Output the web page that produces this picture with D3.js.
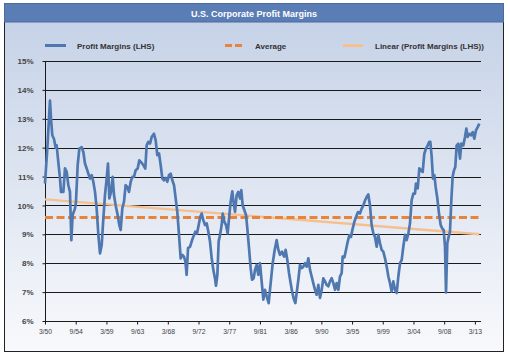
<!DOCTYPE html>
<html><head><meta charset="utf-8">
<script src="https://cdn.jsdelivr.net/npm/d3@7"></script>
<style>
html,body{margin:0;padding:0;background:#fff;}
svg{display:block;}
text{font-family:"Liberation Sans",Arial,sans-serif;}
</style></head>
<body><svg id="c" width="510" height="356"></svg>
<script>
const title = "U.S. Corporate Profit Margins";
const seriesNames = ["Profit Margins (LHS)", "Average", "Linear (Profit Margins (LHS))"];
const yTicks = [6,7,8,9,10,11,12,13,14,15];
const xTickYears = [1950,1954.5,1959,1963.5,1968,1972.5,1977,1981.5,1986,1990.5,1995,1999.5,2004,2008.5,2013];
const xTickLabels = ["3/50","9/54","3/59","9/63","3/68","9/72","3/77","9/81","3/86","9/90","3/95","9/99","3/04","9/08","3/13"];
const years = [
1950.00,1950.34,1950.73,1950.88,1951.07,1951.32,1951.56,1951.71,1951.95,1952.20,1952.34,1952.69,1952.93,1953.18,1953.42,1953.66,1953.86,
1954.05,1954.40,1954.54,1954.79,1955.03,1955.37,1955.62,1955.86,1956.11,1956.35,1956.59,1956.84,1957.08,1957.33,1957.57,1957.82,
1958.06,1958.31,1958.55,1958.79,1959.04,1959.23,1959.43,1959.67,1959.92,1960.11,1960.36,1960.65,1960.89,1961.09,1961.33,1961.58,
1961.82,1962.07,1962.31,1962.56,1962.80,1963.04,1963.29,1963.58,1963.82,1964.07,1964.41,1964.70,1964.90,1965.14,1965.39,1965.63,
1965.97,1966.22,1966.46,1966.71,1966.95,1967.20,1967.44,1967.68,1967.93,1968.17,1968.42,1968.66,1968.91,1969.15,1969.39,1969.64,
1969.88,1970.13,1970.37,1970.57,1970.76,1970.96,1971.25,1971.49,1971.74,1972.03,1972.28,1972.52,1972.76,1972.96,1973.20,1973.45,
1973.69,1973.94,1974.18,1974.43,1974.67,1974.91,1975.06,1975.26,1975.45,1975.65,1975.89,1976.04,1976.28,1976.53,1976.77,1976.97,
1977.21,1977.45,1977.65,1977.85,1978.09,1978.33,1978.58,1978.77,1978.97,1979.21,1979.46,1979.65,1979.90,1980.14,1980.34,1980.58,
1980.78,1981.02,1981.26,1981.51,1981.75,1982.00,1982.24,1982.49,1982.78,1983.07,1983.37,1983.66,1983.95,1984.20,1984.44,1984.73,
1985.03,1985.27,1985.51,1985.76,1986.00,1986.25,1986.49,1986.69,1986.88,1987.13,1987.37,1987.62,1987.86,1988.10,1988.35,1988.59,
1988.84,1989.08,1989.32,1989.57,1989.81,1990.06,1990.30,1990.55,1990.79,1991.03,1991.28,1991.52,1991.77,1992.01,1992.26,1992.50,
1992.74,1992.99,1993.23,1993.48,1993.62,1993.87,1994.11,1994.36,1994.60,1994.84,1995.09,1995.33,1995.58,1995.87,1996.16,1996.41,
1996.65,1996.90,1997.14,1997.38,1997.63,1997.87,1998.12,1998.36,1998.61,1998.85,1999.10,1999.34,1999.58,1999.83,2000.07,2000.32,
2000.56,2000.80,2001.05,2001.29,2001.54,2001.78,2002.03,2002.27,2002.51,2002.76,2003.00,2003.25,2003.49,2003.73,2003.98,2004.22,
2004.37,2004.62,2004.86,2005.10,2005.35,2005.59,2005.84,2006.08,2006.32,2006.47,2006.67,2006.86,2007.06,2007.25,2007.50,2007.74,
2007.99,2008.23,2008.43,2008.62,2008.77,2008.96,2009.16,2009.35,2009.55,2009.74,2009.94,2010.13,2010.33,2010.57,2010.82,2011.01,
2011.31,2011.55,2011.75,2011.94,2012.19,2012.43,2012.68,2012.92,2013.16,2013.41,2013.65];
const margins = [
10.76,11.97,13.63,13.0,12.43,12.3,12.0,12.08,11.5,10.93,10.47,10.47,11.28,11.16,10.7,10.47,8.8,
9.67,9.9,10.13,11.4,11.97,12.02,11.85,11.45,11.28,11.1,10.93,11.05,10.82,10.47,9.9,8.98,
8.34,8.63,9.55,10.36,10.93,11.45,10.24,10.47,10.99,10.36,10.0,9.67,9.32,9.15,9.9,10.13,
10.7,10.64,10.47,10.82,10.99,10.99,11.22,11.28,11.56,11.5,11.4,11.28,12.08,12.2,12.14,12.37,
12.48,12.25,11.74,11.8,11.4,10.93,10.87,10.95,10.82,11.05,11.1,10.87,10.7,10.24,9.78,8.98,
8.17,8.29,8.23,8.06,7.6,8.52,8.57,8.75,8.92,9.09,9.03,9.32,9.61,9.72,9.49,9.32,
9.38,9.09,8.75,8.17,7.77,7.48,7.22,7.6,8.75,8.98,9.32,9.72,9.44,9.32,9.03,9.55,
10.13,10.49,10.07,9.78,10.36,10.47,10.24,10.53,10.0,9.84,9.67,9.21,8.52,7.83,7.43,7.48,
7.77,7.94,7.6,8.0,7.37,6.74,7.08,6.85,6.62,7.31,8.0,8.46,8.8,8.46,8.29,8.4,
8.23,8.46,8.11,7.66,7.31,6.97,6.74,6.62,6.97,7.43,7.94,7.83,7.88,8.0,7.88,8.17,
7.77,7.54,7.31,7.08,6.91,7.25,6.8,7.08,7.48,7.37,7.25,7.2,7.37,7.48,7.31,7.08,
7.31,7.08,7.54,7.66,8.23,8.2,8.46,8.74,8.97,8.91,9.2,9.43,9.6,9.77,9.72,9.89,
10.0,10.17,10.29,10.38,10.0,9.32,9.03,8.91,8.57,8.98,8.69,8.46,8.4,8.17,7.89,7.54,
7.31,7.02,7.37,7.08,6.97,7.54,8.0,8.11,8.57,8.98,8.8,9.03,9.38,10.18,10.41,10.41,
10.76,10.59,11.28,11.22,11.16,11.79,11.97,12.08,12.2,12.2,11.68,10.93,11.05,10.64,10.24,9.72,
9.32,9.2,9.15,8.57,6.99,8.69,8.92,9.09,10.18,10.99,11.22,11.33,12.08,12.14,11.62,12.14,
12.08,12.37,12.66,12.37,12.48,12.43,12.54,12.31,12.6,12.71,12.83];
const averageValue = 9.58;
const trendYears = [1950.0, 2013.65];
const trendValues = [10.21, 9.0];

const svg = d3.select("#c");
const defs = svg.append("defs");
const g = defs.append("linearGradient").attr("id","bg").attr("x1",0).attr("y1",0).attr("x2",0).attr("y2",1);
g.append("stop").attr("offset","0%").attr("stop-color","#c3d0e6");
g.append("stop").attr("offset","100%").attr("stop-color","#f8f9fc");

// frame
svg.append("rect").attr("x",4.5).attr("y",3.5).attr("width",499).attr("height",348).attr("fill","url(#bg)").attr("stroke","#222").attr("stroke-width",1);
svg.append("rect").attr("x",4.5).attr("y",3.5).attr("width",499).attr("height",18.5).attr("fill","#5a7db6").attr("stroke","#4a6aa0").attr("stroke-width",1);
svg.append("text").attr("x",254).attr("y",16.5).attr("text-anchor","middle").attr("fill","#fff")
  .attr("font-size","9px").attr("font-weight","bold").text(title);

const x = d3.scaleLinear().domain([1950, 2013.75]).range([45, 480]);
const y = d3.scaleLinear().domain([6, 15]).range([321, 61]);

// gridlines
svg.append("g").selectAll("line").data(yTicks).join("line")
  .attr("x1", 45).attr("x2", 481).attr("y1", d => Math.round(y(d))+0.5).attr("y2", d => Math.round(y(d))+0.5)
  .attr("stroke","#1a1a1a").attr("stroke-width",1);

// y axis
const yAxis = svg.append("g").attr("transform","translate(45.5,0)")
  .call(d3.axisLeft(y).tickValues(yTicks).tickFormat(d => d + "%").tickSize(3).tickPadding(9));
yAxis.select(".domain").attr("stroke","#1a1a1a").attr("d","M0,61V321");
yAxis.selectAll("line").attr("stroke","#1a1a1a");
yAxis.selectAll("text").attr("font-size","8px").attr("font-weight","bold").attr("fill","#444")
  .attr("font-family","Liberation Sans, Arial, sans-serif");

// x axis
const xAxis = svg.append("g").attr("transform","translate(0,321.5)")
  .call(d3.axisBottom(x).tickValues(xTickYears).tickFormat((d,i) => xTickLabels[i]).tickSize(3).tickPadding(5));
xAxis.select(".domain").remove();
xAxis.selectAll("line").attr("stroke","#1a1a1a");
xAxis.selectAll("text").attr("font-size","6.8px").attr("fill","#444")
  .attr("font-family","Liberation Sans, Arial, sans-serif");

// trend
svg.append("path").datum(trendYears.map((t,i)=>[t,trendValues[i]]))
  .attr("d", d3.line().x(d=>x(d[0])).y(d=>y(d[1])))
  .attr("fill","none").attr("stroke","#f6bf8e").attr("stroke-width",2.5);

// average
svg.append("line").attr("x1",x(1950)).attr("x2",x(2013.75)).attr("y1",y(averageValue)).attr("y2",y(averageValue))
  .attr("stroke","#e8833a").attr("stroke-width",3).attr("stroke-dasharray","8,3.5");

// main series
svg.append("path").datum(years.map((t,i)=>[t,margins[i]]))
  .attr("d", d3.line().x(d=>x(d[0])).y(d=>y(d[1])))
  .attr("fill","none").attr("stroke","#4f78b1").attr("stroke-width",2.7).attr("stroke-linejoin","round");

// legend
const legend = [
  {x1:45,x2:66,tx:77,color:"#4f78b1",dash:null,w:3},
  {x1:225,x2:245,tx:255,color:"#e8833a",dash:"7,3",w:3},
  {x1:343,x2:363,tx:375,color:"#f6bf8e",dash:null,w:3}
];
const lg = svg.append("g");
legend.forEach((L,i)=>{
  lg.append("line").attr("x1",L.x1).attr("x2",L.x2).attr("y1",45.5).attr("y2",45.5)
    .attr("stroke",L.color).attr("stroke-width",L.w).attr("stroke-dasharray",L.dash);
  lg.append("text").attr("x",L.tx).attr("y",48.5).attr("font-size","8px").attr("font-weight","bold")
    .attr("fill","#333").text(seriesNames[i]);
});
</script></body></html>
